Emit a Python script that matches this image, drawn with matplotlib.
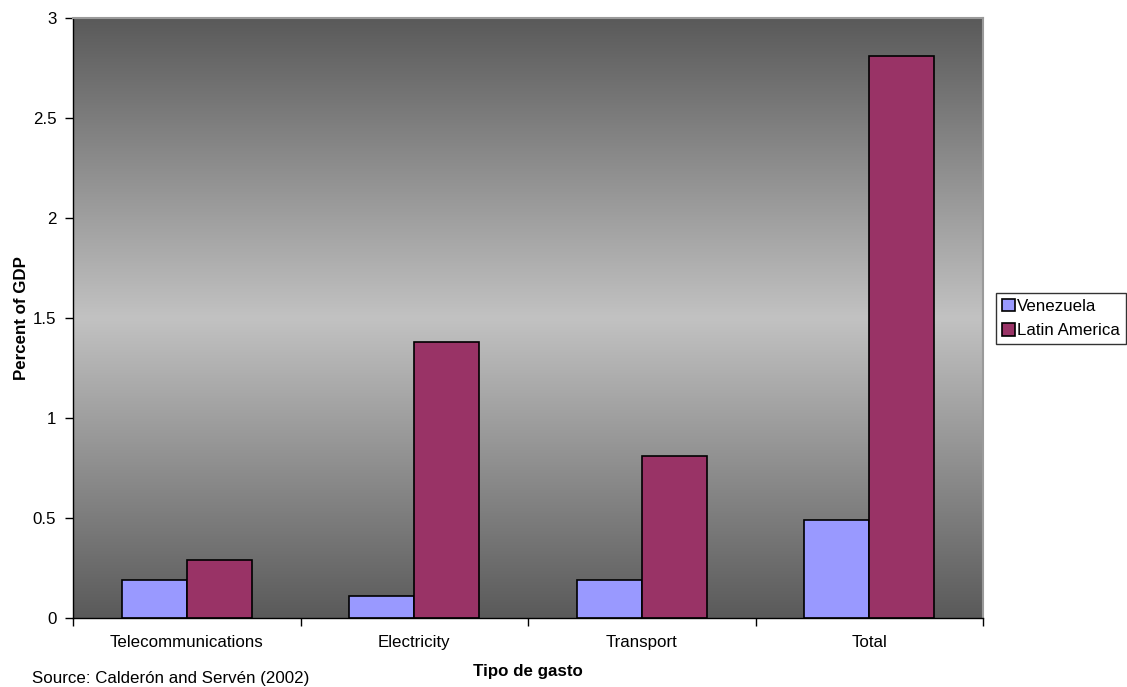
import numpy as np
import matplotlib
matplotlib.use("Agg")
import matplotlib.pyplot as plt
from matplotlib.colors import LinearSegmentedColormap

plt.rcParams['font.family'] = ['Liberation Sans', 'DejaVu Sans']

categories = ["Telecommunications", "Electricity", "Transport", "Total"]
venezuela = [0.19, 0.11, 0.19, 0.49]
latin_america = [0.29, 1.38, 0.81, 2.81]
series_names = ["Venezuela", "Latin America"]
series_colors = ["#9999ff", "#993366"]
y_ticks = [0, 0.5, 1, 1.5, 2, 2.5, 3]
y_tick_labels = ["0", "0.5", "1", "1.5", "2", "2.5", "3"]

FS = 12.2

fig = plt.figure(figsize=(11.27, 6.87), dpi=100)
ax = fig.add_axes([73 / 1127, 1 - 618 / 687, 910 / 1127, 600 / 687])

n = len(categories)
ax.set_xlim(0, n)
ax.set_ylim(0, 3)

# vertical grey gradient background: dark at top and bottom, light in the middle
cmap = LinearSegmentedColormap.from_list(
    "bg", [(0.0, "#5a5a5a"), (0.5, "#c2c2c2"), (1.0, "#5a5a5a")])
grad = np.linspace(0, 1, 256).reshape(-1, 1)
ax.imshow(grad, cmap=cmap, aspect="auto", extent=(0, n, 0, 3),
          origin="lower", zorder=0, interpolation="bilinear")

w = 1 / 3.5
x = np.arange(n) + 0.5
ax.bar(x - w / 2, venezuela, width=w, color=series_colors[0],
       edgecolor="black", linewidth=1.2, label=series_names[0], zorder=2)
ax.bar(x + w / 2, latin_america, width=w, color=series_colors[1],
       edgecolor="black", linewidth=1.2, label=series_names[1], zorder=2)

ax.set_yticks(y_ticks)
ax.set_yticklabels(y_tick_labels)
ax.set_xticks(x)
ax.set_xticklabels(categories)
ax.set_xticks(np.arange(n + 1), minor=True)
ax.tick_params(axis="x", which="major", length=0, pad=12, labelsize=FS)
ax.tick_params(axis="x", which="minor", length=6, width=1, direction="out")
ax.tick_params(axis="y", length=6, width=1, direction="out", pad=6, labelsize=FS)

for side in ("left", "bottom"):
    ax.spines[side].set_color("black")
    ax.spines[side].set_linewidth(1.0)
for side in ("top", "right"):
    ax.spines[side].set_color("#9a9a9a")
    ax.spines[side].set_linewidth(1.5)

ax.set_ylabel("Percent of GDP", fontsize=FS, fontweight="bold", labelpad=3)
ax.set_xlabel("Tipo de gasto", fontsize=FS, fontweight="bold", labelpad=10)

leg = ax.legend(loc="upper left", bbox_to_anchor=(996 / 1127, 1 - 293 / 687),
                bbox_transform=fig.transFigure, frameon=True, fancybox=False,
                fontsize=FS, handlelength=0.75, handleheight=0.75,
                handletextpad=0.15, borderpad=0.35, labelspacing=0.55,
                borderaxespad=0)
leg.get_frame().set_edgecolor("black")
leg.get_frame().set_linewidth(1.0)

fig.text(32 / 1127, 1 - 679 / 687, "Source: Calderón and Servén (2002)",
         fontsize=FS, va="center", ha="left")

fig.savefig("out.png", dpi=100)
